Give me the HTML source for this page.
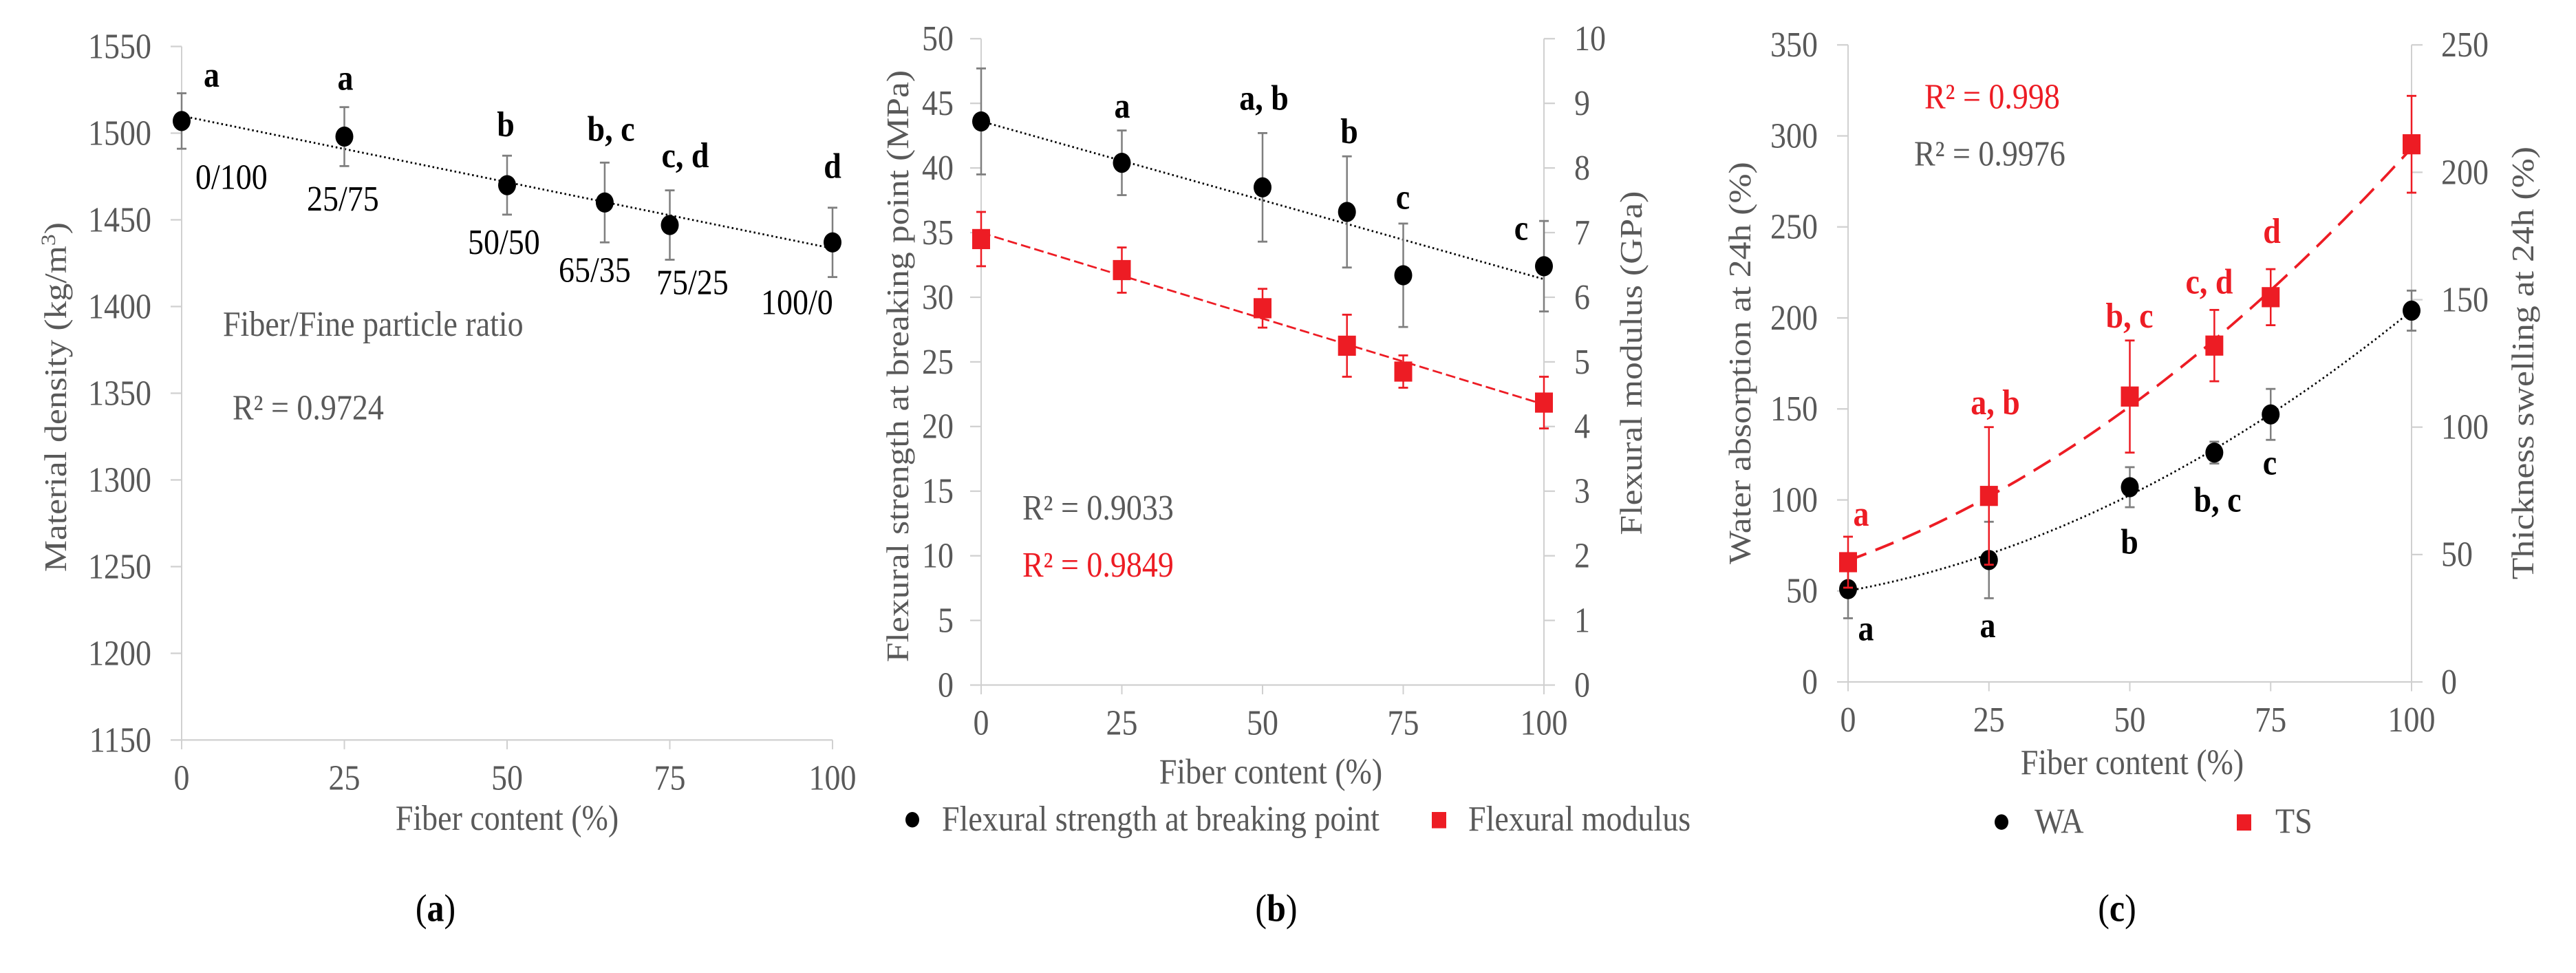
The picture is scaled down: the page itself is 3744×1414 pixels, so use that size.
<!DOCTYPE html>
<html><head><meta charset="utf-8"><style>
html,body{margin:0;padding:0;background:#fff}
svg{display:block;font-family:"Liberation Serif",serif}
</style></head><body>
<svg id="fig" width="3744" height="1414" viewBox="0 0 3744 1257" preserveAspectRatio="none" xmlns="http://www.w3.org/2000/svg"></svg>
<script>
// ---------- data ----------
const fiber = [0,25,50,65,75,100];
// panel a
const densVals = [1507,1498,1470,1460,1447,1437];
const densErr = [16,17,17,23,20,20];
const densLetters = ["a","a","b","b, c","c, d","d"];
const ratioLabels = ["0/100","25/75","50/50","65/35","75/25","100/0"];
const densTicks = [1150,1200,1250,1300,1350,1400,1450,1500,1550];
// panel b
const strVals = [43.6,40.4,38.5,36.6,31.7,32.4];
const strErr = [4.1,2.5,4.2,4.3,4.0,3.5];
const strLetters = ["","a","a, b","b","c","c"];
const modVals = [6.9,6.42,5.83,5.25,4.85,4.37];
const modErr = [0.42,0.35,0.3,0.48,0.25,0.4];
const strTicks = [0,5,10,15,20,25,30,35,40,45,50];
const modTicks = [0,1,2,3,4,5,6,7,8,9,10];
// panel c
const waVals = [51,67,107,126,147,204];
const waErr = [16,21,11,6,14,11];
const waLetters = ["a","a","b","b, c","c",""];
const tsVals = [47,73,112,132,151,211];
const tsErr = [10,27,22,14,11,19];
const tsLetters = ["a","a, b","b, c","c, d","d",""];
const waTicks = [0,50,100,150,200,250,300,350];
const tsTicks = [0,50,100,150,200,250];
const xTicks = [0,25,50,75,100];

const svg=document.getElementById('fig');
const NS='http://www.w3.org/2000/svg';
const FS=46;
function mk(tag,attrs,parent){const e=document.createElementNS(NS,tag);for(const k in attrs)e.setAttribute(k,attrs[k]);(parent||svg).appendChild(e);return e;}
function txt(s,x,y,opt,parent){const e=mk('text',Object.assign({x:x,y:y,'font-size':FS,fill:'#595959'},opt||{}),parent);e.textContent=s;return e;}
const AX='#d0d0d0', RED='#ed1c24';

function lin(d0,d1,r0,r1){return v=>r0+(v-d0)/(d1-d0)*(r1-r0);}
function linfit(xs,ys){const n=xs.length;let sx=0,sy=0,sxy=0,sxx=0;for(let i=0;i<n;i++){sx+=xs[i];sy+=ys[i];sxy+=xs[i]*ys[i];sxx+=xs[i]*xs[i];}const b=(n*sxy-sx*sy)/(n*sxx-sx*sx);return [ (sy-b*sx)/n, b];}
function quadfit(xs,ys){
  let S=[[0,0,0],[0,0,0],[0,0,0]],T=[0,0,0];
  for(let i=0;i<xs.length;i++){const p=[1,xs[i],xs[i]*xs[i]];for(let r=0;r<3;r++){T[r]+=p[r]*ys[i];for(let c=0;c<3;c++)S[r][c]+=p[r]*p[c];}}
  for(let i=0;i<3;i++){for(let j=i+1;j<3;j++){const f=S[j][i]/S[i][i];for(let k=i;k<3;k++)S[j][k]-=f*S[i][k];T[j]-=f*T[i];}}
  const r=[0,0,0];for(let i=2;i>=0;i--){let s=T[i];for(let k=i+1;k<3;k++)s-=S[i][k]*r[k];r[i]=s/S[i][i];}return r;}

function xAxis(g,X,x0,x1,yb){
  mk('line',{x1:x0,y1:yb,x2:x1,y2:yb,stroke:AX,'stroke-width':2},g);
  xTicks.forEach(t=>{const x=X(t);mk('line',{x1:x,y1:yb,x2:x,y2:yb+12,stroke:AX,'stroke-width':2},g);
    const e=txt(String(t),x,yb+64,{'text-anchor':'middle'},g);
    
    });
}
function yAxis(g,ax,Y,ticks,ytop,ybot,left,labelX){
  mk('line',{x1:ax,y1:ytop,x2:ax,y2:ybot,stroke:AX,'stroke-width':2},g);
  ticks.forEach(t=>{const y=Y(t);mk('line',{x1:ax,y1:y,x2:left?ax-16:ax+16,y2:y,stroke:AX,'stroke-width':2},g);
    const e=txt(String(t),labelX,y+15,{'text-anchor':left?'end':'start'},g);
    
    });
}
function errbar(g,x,y0,y1,color){
  mk('line',{x1:x,y1:y0,x2:x,y2:y1,stroke:color,'stroke-width':2.5},g);
  mk('line',{x1:x-7,y1:y0,x2:x+7,y2:y0,stroke:color,'stroke-width':2.5},g);
  mk('line',{x1:x-7,y1:y1,x2:x+7,y2:y1,stroke:color,'stroke-width':2.5},g);
}
function dot(g,x,y,name){const c=mk('circle',{cx:x,cy:y,r:13,fill:'#000'},g);
  
  return c;}
function sq(g,x,y,name){const r=mk('rect',{x:x-13,y:y-13,width:26,height:26,fill:RED},g);
  
  return r;}
function vtitle(g,s,x,y,name){const e=txt(s,x,y,{'text-anchor':'middle',transform:`rotate(-90 ${x} ${y})`},g);
  
  return e;}

// ================= Panel A =================
(function(){
  const g=mk('g',{});
  
  
  const X=lin(0,100,264,1210), Y=lin(1150,1550,956,60);
  yAxis(g,264,Y,densTicks,60,956,true,220);
  xAxis(g,X,264,1210,956);
  const xt=txt('Fiber content (%)',737,1072,{'text-anchor':'middle'},g);
  
  
  const yt=txt('',96,513,{'text-anchor':'middle',transform:'rotate(-90 96 513)'},g);
  
  
  yt.textContent='Material density (kg/m';
  const sup=mk('tspan',{'font-size':30,dy:-16},yt);sup.textContent='3';
  const cl=mk('tspan',{dy:16},yt);cl.textContent=')';
  const [a,b]=linfit(fiber,densVals);
  const tl=mk('line',{x1:X(0),y1:Y(a),x2:X(100),y2:Y(a+b*100),stroke:'#000','stroke-width':2.5,'stroke-dasharray':'2.5 4'},g);
  
  
  fiber.forEach((f,i)=>{const x=X(f);errbar(g,x,Y(densVals[i]+densErr[i]),Y(densVals[i]-densErr[i]),'#7f7f7f');dot(g,x,Y(densVals[i]),'density-point');});
  const letterPos=[[296,112],[502,116],[735,176],[888,182],[996,216],[1210,230]];
  const ratioPos=[[284,244],[446,272],[680,328],[812,364],[954,380],[1106,406]];
  fiber.forEach((f,i)=>{
    const l=txt(densLetters[i],letterPos[i][0],letterPos[i][1],{'font-weight':'bold',fill:'#000','text-anchor':i==0?'start':'middle'},g);
    
    
    const r=txt(ratioLabels[i],ratioPos[i][0],ratioPos[i][1],{fill:'#000'},g);
    
    
  });
  const n1=txt('Fiber/Fine particle ratio',324,434,{},g);
  
  
  const n2=txt('R² = 0.9724',338,542,{},g);
  
  
  const cap=mk('text',{x:633,y:1190,'font-size':50,'text-anchor':'middle',fill:'#000'},g);
  
  
  cap.innerHTML='(<tspan font-weight="bold">a</tspan>)';
})();

// ================= Panel B =================
(function(){
  const g=mk('g',{});
  
  
  const X=lin(0,100,1426,2244), Y=lin(0,50,885,50), Y2=lin(0,10,885,50);
  yAxis(g,1426,Y,strTicks,50,885,true,1386);
  yAxis(g,2244,Y2,modTicks,50,885,false,2288);
  xAxis(g,X,1426,2244,885);
  const xt=txt('Fiber content (%)',1847,1012,{'text-anchor':'middle'},g);
  
  
  vtitle(g,'Flexural strength at breaking point (MPa)',1320,473,'y-axis-title');
  vtitle(g,'Flexural modulus (GPa)',2386,469,'y2-axis-title');
  let [a,b]=linfit(fiber,strVals);
  let t=mk('line',{x1:X(0),y1:Y(a),x2:X(100),y2:Y(a+b*100),stroke:'#000','stroke-width':2.5,'stroke-dasharray':'2.5 4'},g);
  
  
  [a,b]=linfit(fiber,modVals);
  t=mk('line',{x1:X(0),y1:Y2(a),x2:X(100),y2:Y2(a+b*100),stroke:RED,'stroke-width':2.5,'stroke-dasharray':'14 6'},g);
  
  
  fiber.forEach((f,i)=>{const x=X(f);
    errbar(g,x,Y(strVals[i]+strErr[i]),Y(strVals[i]-strErr[i]),'#7f7f7f');dot(g,x,Y(strVals[i]),'strength-point');
    errbar(g,x,Y2(modVals[i]+modErr[i]),Y2(modVals[i]-modErr[i]),RED);sq(g,x,Y2(modVals[i]),'modulus-point');});
  const lp=[[0,0],[1631,152],[1837,142],[1961,185],[2039,270],[2211,310]];
  fiber.forEach((f,i)=>{if(!strLetters[i])return;
    const l=txt(strLetters[i],lp[i][0],lp[i][1],{'font-weight':'bold',fill:'#000','text-anchor':'middle'},g);
    
    });
  let r=txt('R² = 0.9033',1486,671,{},g);
  
  
  r=txt('R² = 0.9849',1486,745,{fill:RED},g);
  
  
  const lg=mk('g',{},g);
  
  
  mk('circle',{cx:1326,cy:1059,r:10,fill:'#000'},lg);
  txt('Flexural strength at breaking point',1369,1073,{},lg);
  mk('rect',{x:2081,y:1049,width:21,height:21,fill:RED},lg);
  txt('Flexural modulus',2134,1073,{},lg);
  const cap=mk('text',{x:1855,y:1190,'font-size':50,'text-anchor':'middle',fill:'#000'},g);
  
  
  cap.innerHTML='(<tspan font-weight="bold">b</tspan>)';
})();

// ================= Panel C =================
(function(){
  const g=mk('g',{});
  
  
  const X=lin(0,100,2686,3505), Y=lin(0,350,881,58), Y2=lin(0,250,881,58);
  yAxis(g,2686,Y,waTicks,58,881,true,2642);
  yAxis(g,3505,Y2,tsTicks,58,881,false,3548);
  xAxis(g,X,2686,3505,881);
  const xt=txt('Fiber content (%)',3099,1000,{'text-anchor':'middle'},g);
  
  
  vtitle(g,'Water absorption at 24h (%)',2544,469,'y-axis-title');
  vtitle(g,'Thickness swelling at 24h  (%)',3682,469,'y2-axis-title');
  function curve(vals,Ys,style,name){const q=quadfit(fiber,vals);let d='';
    for(let v=0;v<=100;v+=2){const y=q[0]+q[1]*v+q[2]*v*v;d+=(v?'L':'M')+X(v).toFixed(1)+' '+Ys(y).toFixed(1);}
    const p=mk('path',Object.assign({d:d,fill:'none'},style),g);
    
    }
  curve(waVals,Y,{stroke:'#000','stroke-width':2.5,'stroke-dasharray':'2.5 4'},'wa-trendline');
  curve(tsVals,Y2,{stroke:RED,'stroke-width':3.5,'stroke-dasharray':'28 14'},'ts-trendline');
  fiber.forEach((f,i)=>{const x=X(f);
    errbar(g,x,Y(waVals[i]+waErr[i]),Y(waVals[i]-waErr[i]),'#7f7f7f');dot(g,x,Y(waVals[i]),'wa-point');
    errbar(g,x,Y2(tsVals[i]+tsErr[i]),Y2(tsVals[i]-tsErr[i]),RED);sq(g,x,Y2(tsVals[i]),'ts-point');});
  const rp=[[2705,679],[2900,535],[3095,423],[3211,379],[3302,314]];
  const bp=[[2712,827],[2889,823],[3095,715],[3223,661],[3299,613]];
  fiber.forEach((f,i)=>{
    if(tsLetters[i]){const l=txt(tsLetters[i],rp[i][0],rp[i][1],{'font-weight':'bold',fill:RED,'text-anchor':'middle'},g);
      
      }
    if(waLetters[i]){const l=txt(waLetters[i],bp[i][0],bp[i][1],{'font-weight':'bold',fill:'#000','text-anchor':'middle'},g);
      
      }
  });
  let r=txt('R² = 0.998',2797,140,{fill:RED},g);
  
  
  r=txt('R² = 0.9976',2782,214,{},g);
  
  
  const lg=mk('g',{},g);
  
  
  mk('circle',{cx:2909,cy:1062,r:10,fill:'#000'},lg);
  txt('WA',2957,1076,{},lg);
  mk('rect',{x:3251,y:1052,width:21,height:21,fill:RED},lg);
  txt('TS',3307,1076,{},lg);
  const cap=mk('text',{x:3077,y:1190,'font-size':50,'text-anchor':'middle',fill:'#000'},g);
  
  
  cap.innerHTML='(<tspan font-weight="bold">c</tspan>)';
})();
</script>
</body></html>
